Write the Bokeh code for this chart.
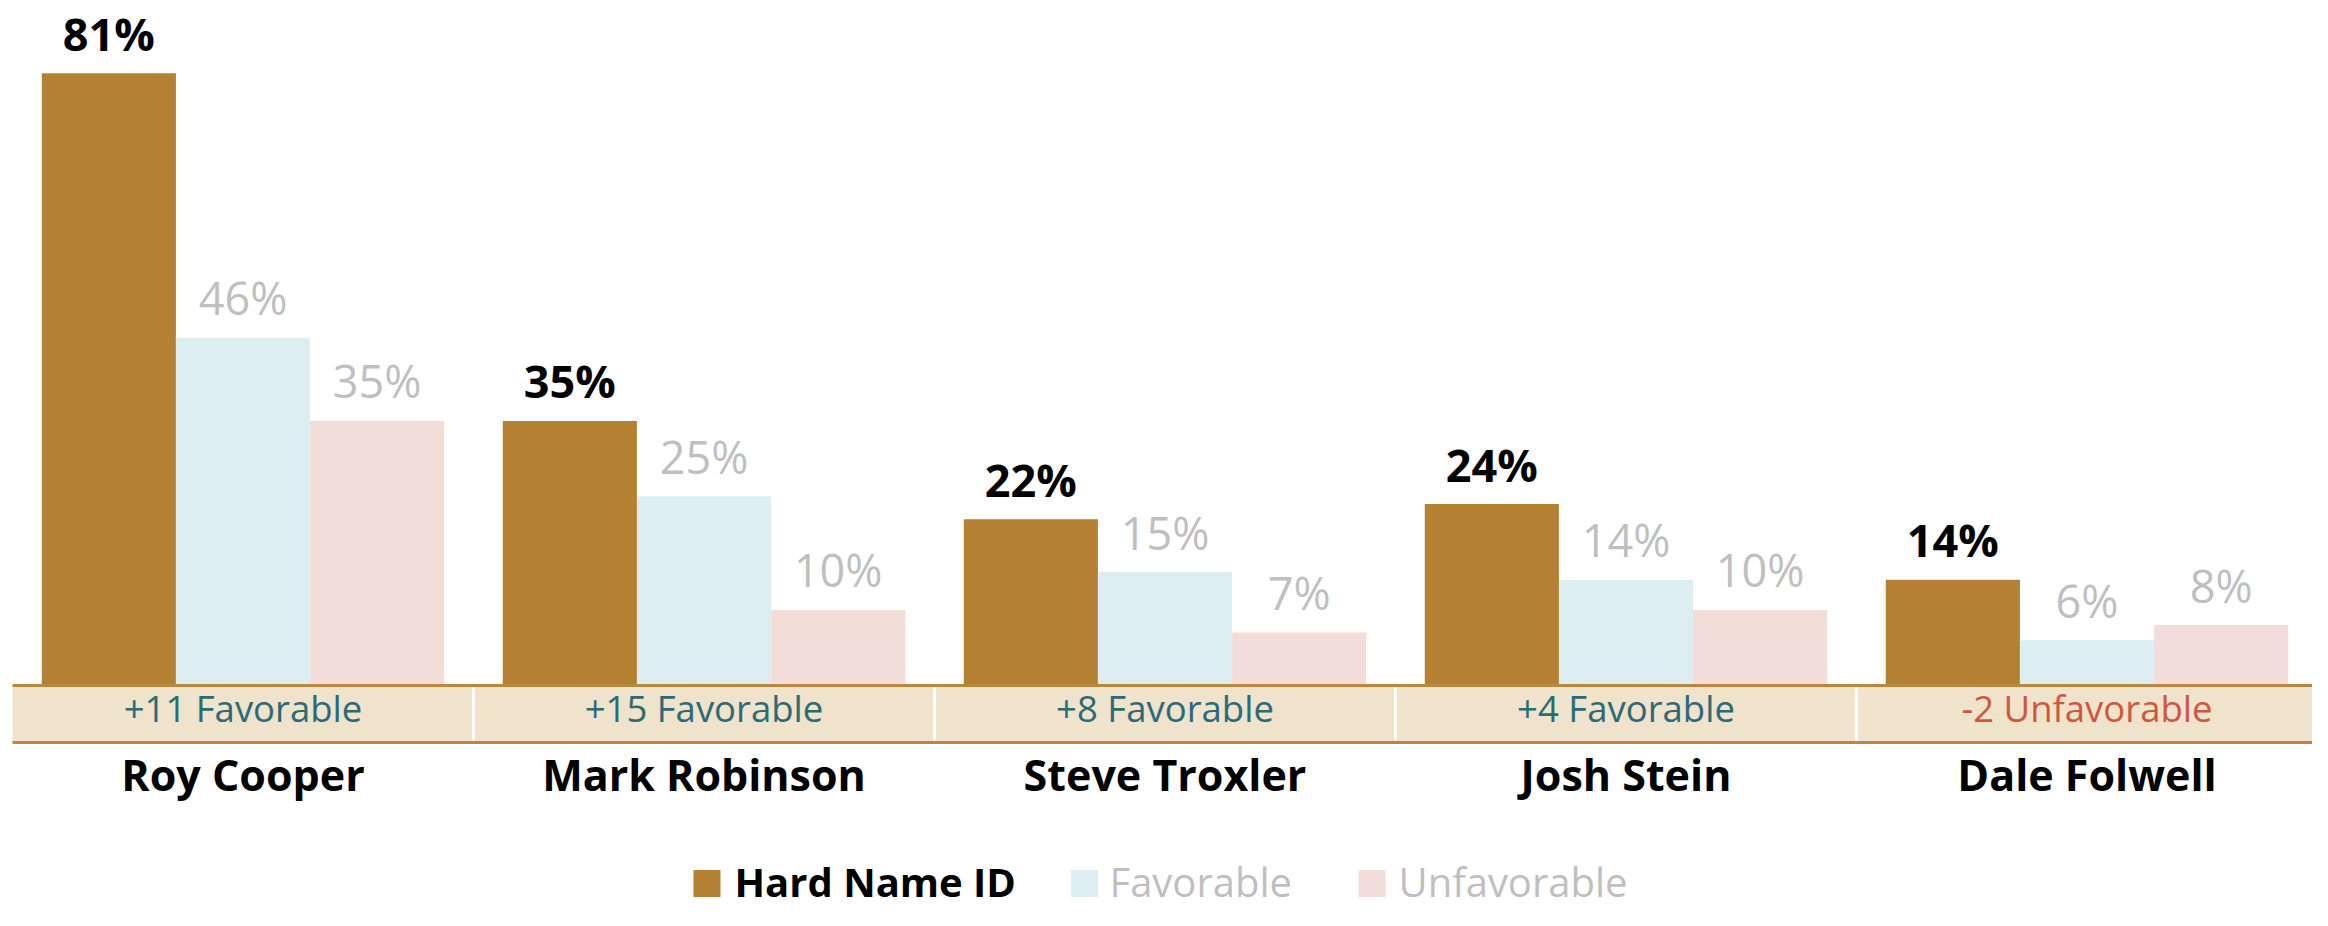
from bokeh.plotting import figure
from bokeh.models import Range1d, ColumnDataSource
from bokeh.core.properties import value
from bokeh.embed import file_html
from bokeh.resources import INLINE

# ---- data ----
candidates = ["Roy Cooper", "Mark Robinson", "Steve Troxler", "Josh Stein", "Dale Folwell"]
hard_name_id = [81, 35, 22, 24, 14]
favorable = [46, 25, 15, 14, 6]
unfavorable = [35, 10, 7, 10, 8]
series_names = ["Hard Name ID", "Favorable", "Unfavorable"]

# ---- styling / layout ----
GOLD = "#B38131"
BLUE = "#DDEEF2"
PINK = "#F2DDD9"
BAND = "#EFE3CC"
BAND_LINE = "#B8893A"
TEAL = "#2D6A78"
RED = "#CF573E"
GRAY = "#BFBFBF"
FONT = "Open Sans"

W, H = 2312, 910
PX = 7.56          # pixels per percentage point
CAT = 461.0        # pixels per category
LEFT = 12.0        # pixels from figure left to category 0
BASE = 685.0       # pixels from figure top to the baseline

x_start = -LEFT / CAT
x_end = (W - LEFT) / CAT
y_start = -(H - BASE) / PX
y_end = BASE / PX

p = figure(width=W, height=H, output_backend="svg", toolbar_location=None,
           x_range=Range1d(x_start, x_end), y_range=Range1d(y_start, y_end),
           min_border=0, tools="")
p.axis.visible = False
p.grid.visible = False
p.outline_line_color = None
p.background_fill_color = "white"
p.border_fill_color = "white"

n = len(candidates)
centers = [i + 0.5 for i in range(n)]
bw = 0.291
offsets = [-bw, 0.0, bw]
colors = [GOLD, BLUE, PINK]
series = [hard_name_id, favorable, unfavorable]

for s, vals in enumerate(series):
    xs = [c + offsets[s] for c in centers]
    src = ColumnDataSource(dict(x=xs, top=vals, lab=[f"{v}%" for v in vals]))
    p.vbar(x="x", top="top", bottom=0, width=bw, source=src,
           fill_color=colors[s], line_color=None)
    p.text(x="x", y="top", text="lab", source=src, y_offset=-40,
           text_align="center", text_baseline="alphabetic",
           text_font=value(FONT), text_font_size="45px",
           text_font_style="bold" if s == 0 else "normal",
           text_color="black" if s == 0 else GRAY)

# ---- net favorability band ----
band_bottom = -57 / PX
p.quad(left=0, right=n, top=-1 / PX, bottom=band_bottom,
       fill_color=BAND, line_color=None)
p.segment(x0=[0, 0], y0=[0, band_bottom], x1=[n, n], y1=[0, band_bottom],
          line_color=BAND_LINE, line_width=3)
p.segment(x0=list(range(1, n)), y0=[-1.5 / PX] * (n - 1),
          x1=list(range(1, n)), y1=[band_bottom + 1.5 / PX] * (n - 1),
          line_color="white", line_width=3)

net = [f - u for f, u in zip(favorable, unfavorable)]
net_text = [f"+{d} Favorable" if d >= 0 else f"{d} Unfavorable" for d in net]
net_color = [TEAL if d >= 0 else RED for d in net]
p.text(x=centers, y=[0] * n, text=net_text, text_color=net_color, y_offset=22,
       text_align="center", text_baseline="alphabetic",
       text_font=value(FONT), text_font_size="36.5px")

# ---- candidate names ----
p.text(x=centers, y=[0] * n, text=candidates, y_offset=89,
       text_align="center", text_baseline="alphabetic",
       text_font=value(FONT), text_font_size="43px", text_font_style="bold",
       text_color="black")

# ---- legend (manual, to allow per-item text styling) ----
leg_sq_px = [706.5, 1084.0, 1371.5]   # x of squares
leg_tx_px = [734.0, 1109.0, 1398.0]   # x of labels
to_x = lambda px: (px - LEFT) / CAT
LEG_CENTER = 883.0
leg_y = -(LEG_CENTER - BASE) / PX
p.scatter(x=[to_x(v) for v in leg_sq_px], y=[leg_y] * 3, marker="square", size=27,
          fill_color=colors, line_color=None)
p.text(x=[to_x(v) for v in leg_tx_px], y=[0] * 3, text=series_names,
       y_offset=LEG_CENTER - BASE - 2, text_align="left", text_baseline="alphabetic",
       text_font=value(FONT), text_font_size="40px",
       text_font_style=["bold", "normal", "normal"],
       text_color=["black", GRAY, GRAY])

open("out.html", "w").write(file_html(p, INLINE))
